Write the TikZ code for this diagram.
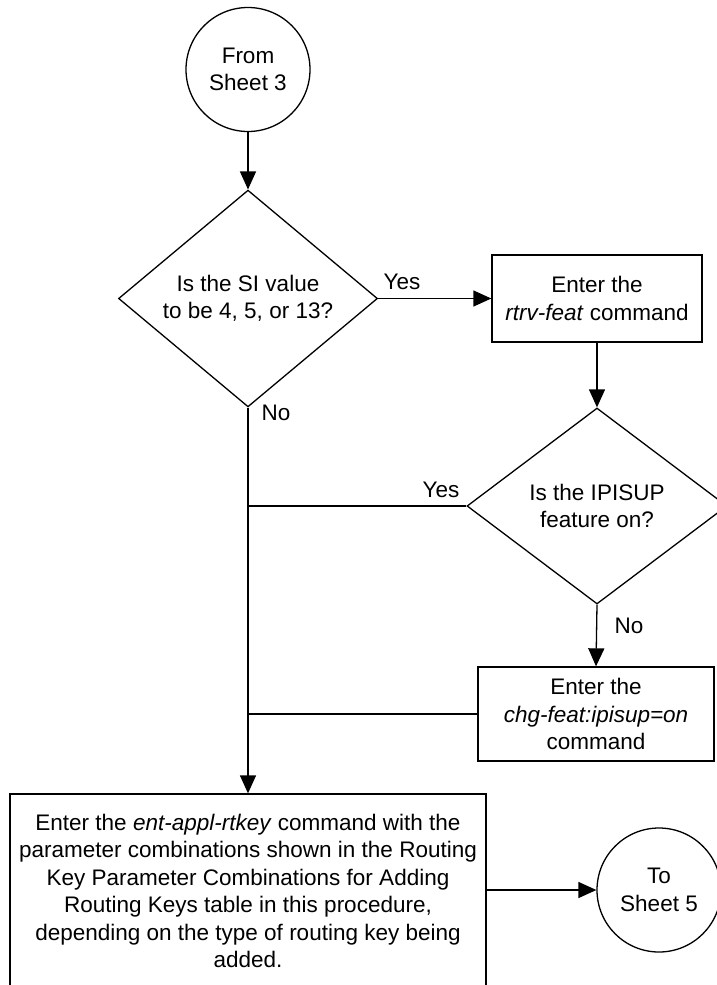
\documentclass[tikz,border=0pt]{standalone}
\usepackage{fontspec}
\setmainfont{Liberation Sans}
\usetikzlibrary{shapes.geometric,arrows.meta}
\begin{document}
\begin{tikzpicture}[x=1pt,y=-1pt,
  every node/.style={font=\fontsize{22.5}{27.5}\selectfont},
  line/.style={line width=1.3pt},
  arr/.style={line width=1.3pt, -{Triangle[length=18pt,width=16pt]}},
  proc/.style={draw, line width=1.3pt, rectangle, inner sep=0pt, align=center},
  dec/.style={draw, diamond, line width=1.3pt, inner sep=0pt, align=center},
  conn/.style={draw, circle, line width=1.3pt, minimum size=124pt, inner sep=0pt, align=center},
  lbl/.style={inner sep=0pt}]
\useasboundingbox (0,0) rectangle (717,985);
\node[conn] (from) at (248,69.5) {From\\Sheet 3};
\node[dec, minimum width=259pt, minimum height=197pt] (d1) at (248,298.5) {Is the SI value\\to be 4, 5, or 13?};
\node[proc, minimum width=210pt, minimum height=87pt] (b1) at (597,298.5) {Enter the\\\textit{rtrv-feat} command};
\node[dec, minimum width=260pt, minimum height=196pt] (d2) at (597,506) {Is the IPISUP\\feature on?};
\node[proc, minimum width=236pt, minimum height=94pt] (b2) at (596,714) {Enter the\\\textit{chg-feat:ipisup=on}\\command};
\node[proc, minimum width=476pt, minimum height=194pt] (b3) at (248,891) {Enter the \textit{ent-appl-rtkey} command with the\\parameter combinations shown in the Routing\\Key Parameter Combinations for Adding\\Routing Keys table in this procedure,\\depending on the type of routing key being\\added.};
\node[conn] (to) at (659,890) {To\\Sheet 5};

\node[lbl] (yes1) at (402,282) {Yes};
\node[lbl] (no1) at (276,413) {No};
\node[lbl] (yes2) at (441,489.5) {Yes};
\node[lbl] (no2) at (629,626) {No};

\draw[arr] (from) -- (d1);
\draw[arr] (d1.east) -- (b1.west);
\draw[arr] (b1.south) -- (d2.north);
\draw[arr] (d2.south) -- (b2.north);
\draw[arr] (d1.south) -- (b3.north);
\draw[line] (d2.west) -- (d1.south |- d2.west);
\draw[line] (b2.west) -- (d1.south |- b2.west);
\draw[arr] (b3.east |- to.west) -- (to.west);
\end{tikzpicture}
\end{document}
